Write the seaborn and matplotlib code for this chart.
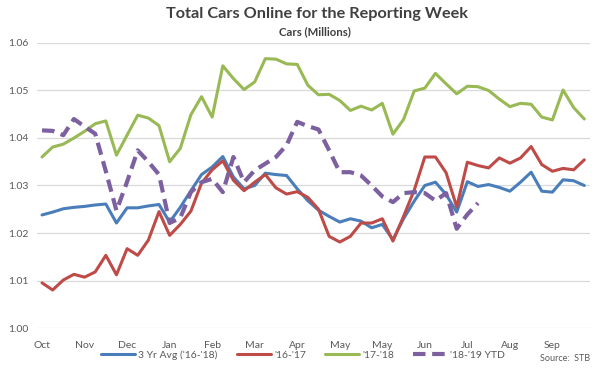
import numpy as np
import pandas as pd
import matplotlib
matplotlib.use("Agg")
import matplotlib.pyplot as plt
import seaborn as sns

months = ["Oct", "Nov", "Dec", "Jan", "Feb", "Mar", "Apr", "May", "May", "Jun", "Jul", "Aug", "Sep"]

avg_3yr = [1.0238, 1.0244, 1.0251, 1.0254, 1.0256, 1.0259, 1.0261, 1.0221, 1.0253, 1.0253, 1.0257, 1.0260,
           1.0223, 1.0254, 1.0289, 1.0323, 1.0339, 1.0361, 1.0318, 1.0293, 1.0300, 1.0326, 1.0323, 1.0321,
           1.0293, 1.0268, 1.0248, 1.0235, 1.0223, 1.0230, 1.0225, 1.0211, 1.0218, 1.0186, 1.0230, 1.0267,
           1.0300, 1.0307, 1.0281, 1.0244, 1.0308, 1.0298, 1.0302, 1.0296, 1.0288, 1.0307, 1.0328, 1.0288,
           1.0286, 1.0312, 1.0310, 1.0300]
y16_17 = [1.0095, 1.0080, 1.0101, 1.0113, 1.0107, 1.0118, 1.0153, 1.0112, 1.0167, 1.0153, 1.0185, 1.0245,
          1.0195, 1.0218, 1.0246, 1.0305, 1.0333, 1.0352, 1.0311, 1.0289, 1.0307, 1.0323, 1.0295, 1.0282,
          1.0287, 1.0275, 1.0250, 1.0193, 1.0181, 1.0193, 1.0221, 1.0221, 1.0230, 1.0183, 1.0235, 1.0290,
          1.0360, 1.0360, 1.0327, 1.0255, 1.0349, 1.0342, 1.0337, 1.0358, 1.0347, 1.0358, 1.0382, 1.0344,
          1.0330, 1.0336, 1.0333, 1.0354]
y17_18 = [1.0360, 1.0381, 1.0387, 1.0400, 1.0414, 1.0430, 1.0436, 1.0364, 1.0406, 1.0448, 1.0442, 1.0426,
          1.0350, 1.0378, 1.0449, 1.0487, 1.0444, 1.0552, 1.0525, 1.0502, 1.0518, 1.0567, 1.0566, 1.0556,
          1.0555, 1.0511, 1.0491, 1.0492, 1.0479, 1.0458, 1.0467, 1.0459, 1.0473, 1.0408, 1.0439, 1.0499,
          1.0505, 1.0536, 1.0514, 1.0493, 1.0509, 1.0508, 1.0500, 1.0482, 1.0466, 1.0473, 1.0471, 1.0444,
          1.0438, 1.0501, 1.0464, 1.0440]
y18_19_ytd = [1.0416, 1.0415, 1.0406, 1.0440, 1.0424, 1.0409, 1.0330, 1.0247, 1.0308, 1.0374, 1.0350, 1.0323,
              1.0221, 1.0232, 1.0286, 1.0307, 1.0314, 1.0286, 1.0360, 1.0307, 1.0332, 1.0346, 1.0360, 1.0385,
              1.0434, 1.0425, 1.0418, 1.0374, 1.0328, 1.0328, 1.0321, 1.0300, 1.0277, 1.0265, 1.0284, 1.0286,
              1.0284, 1.0268, 1.0284, 1.0209, 1.0239, 1.0263]

series_names = ["3 Yr Avg ('16-'18)", "'16-'17", "'17-'18", "'18-'19 YTD"]
series_vals = [avg_3yr, y16_17, y17_18, y18_19_ytd]
colors = ["#4A7EBB", "#BE4B48", "#98B954", "#7D60A0"]

sns.set_theme(style="white")
plt.rcParams["font.family"] = ["Lato", "DejaVu Sans"]

fig = plt.figure(figsize=(6, 3.7), dpi=100)
ax = fig.add_axes([0.0612, 0.1135, 0.9215, 0.7703])

handles = []
for name, vals, col in zip(series_names, series_vals, colors):
    df = pd.DataFrame({"week": np.arange(len(vals)), "value": vals})
    dashed = name.endswith("YTD")
    sns.lineplot(data=df, x="week", y="value", ax=ax, color=col,
                 linewidth=3.0 if dashed else 2.2, legend=False)
    line = ax.lines[-1]
    if dashed:
        line.set_dashes((3.0, 1.6))
    line.set_solid_joinstyle("round")
    handles.append(line)

ax.set_xlim(-0.5, 51.5)
ax.set_ylim(1.00, 1.06)
ax.set_yticks(np.arange(1.00, 1.0601, 0.01))
ax.set_yticklabels([f"{v:.2f}" for v in np.arange(1.00, 1.0601, 0.01)], fontsize=7.5, color="#595959")
ax.set_xticks(np.arange(0, 52, 4))
ax.set_xticklabels(months, fontsize=7.5, color="#595959")
ax.tick_params(axis="both", length=0, pad=6)
ax.tick_params(axis="x", pad=9)
ax.grid(axis="y", color="#D9D9D9", linewidth=0.9)
ax.set_axisbelow(True)
for s in ax.spines.values():
    s.set_visible(False)
ax.set_xlabel("")
ax.set_ylabel("")

fig.text(0.528, 0.962, "Total Cars Online for the Reporting Week", ha="center", va="center",
         fontsize=11.7, fontweight="bold", color="#404040")
fig.text(0.525, 0.914, "Cars (Millions)", ha="center", va="center",
         fontsize=8.2, fontweight="bold", color="#404040")

leg = fig.legend(handles, series_names, loc="center", bbox_to_anchor=(0.505, 0.04), ncol=4,
                 frameon=False, fontsize=7.5, handlelength=3.3, handletextpad=0.3, columnspacing=1.8)
for t in leg.get_texts():
    t.set_color("#595959")

fig.text(0.983, 0.032, "Source:  STB", ha="right", va="center", fontsize=6.5, color="#595959")

fig.savefig("out.png", dpi=100)
